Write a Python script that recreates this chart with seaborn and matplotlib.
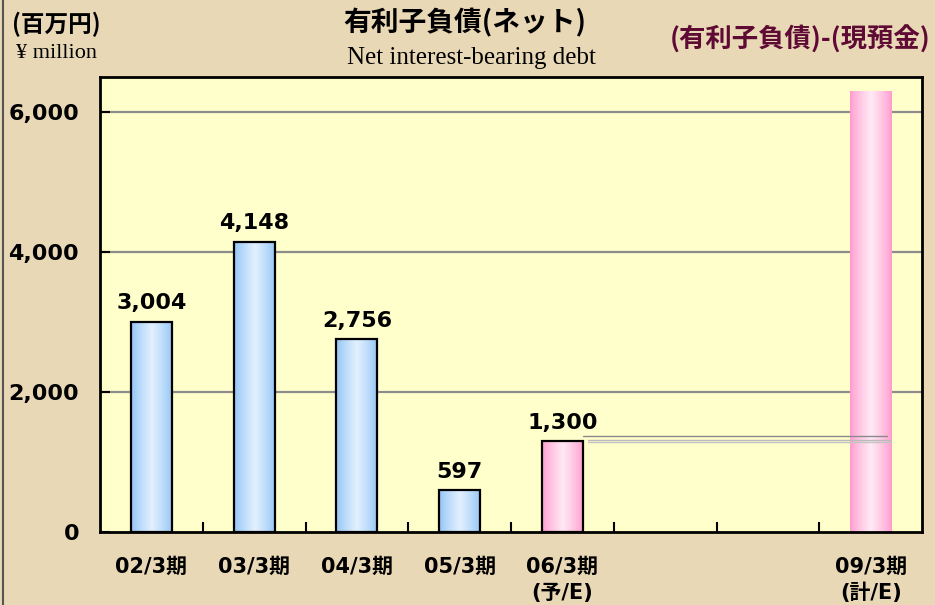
import numpy as np
import pandas as pd
import matplotlib
matplotlib.use("Agg")
import matplotlib.pyplot as plt
import seaborn as sns
from matplotlib.colors import LinearSegmentedColormap
from matplotlib.lines import Line2D

# ---- data ----
slots = ["02/3期", "03/3期", "04/3期", "05/3期", "06/3期\n(予/E)", "07/3期", "08/3期", "09/3期\n(計/E)"]
slot_labels = ["02/3期", "03/3期", "04/3期", "05/3期", "06/3期\n(予/E)", "", "", "09/3期\n(計/E)"]
bar_periods = ["02/3期", "03/3期", "04/3期", "05/3期", "06/3期\n(予/E)", "09/3期\n(計/E)"]
bar_values = [3004, 4148, 2756, 597, 1300, 6300]
bar_kind = ["actual", "actual", "actual", "actual", "forecast", "plan"]
value_labels = ["3,004", "4,148", "2,756", "597", "1,300", ""]
y_ticks = [0, 2000, 4000, 6000]
y_ticklabels = ["0", "2,000", "4,000", "6,000"]

BG = "#E9D8B6"
PLOT_BG = "#FFFFCC"
edge_col = {"actual": "#8FC3F5", "forecast": "#FF9ACD", "plan": "#FF9ACD"}
mid_col = {"actual": "#E2F0FF", "forecast": "#FFE8F4", "plan": "#FFEAF5"}

sns.set_theme(style="white")
plt.rcParams["font.family"] = ["DejaVu Sans", "Noto Sans CJK JP"]
plt.rcParams["text.color"] = "black"

fig = plt.figure(figsize=(9.35, 6.05), dpi=100, facecolor=BG)
ax = fig.add_axes([100 / 935, (605 - 532) / 605, 822 / 935, 455 / 605])
ax.set_facecolor(PLOT_BG)

df = pd.DataFrame({"period": bar_periods, "value": bar_values, "kind": bar_kind})
palette = {p: edge_col[k] for p, k in zip(bar_periods, bar_kind)}
sns.barplot(data=df, x="period", y="value", hue="period", palette=palette,
            order=slots, width=0.4, legend=False, edgecolor="black",
            linewidth=1.6, saturation=1, ax=ax)

# gridlines
for yv in y_ticks[1:]:
    ax.axhline(yv, color="#8C8C8C", lw=1.6, zorder=0.5)

# gradient fill of bars
t = np.linspace(0, 1, 128)
profile = np.clip(1 - np.abs(t - 0.5) / 0.5, 0, 1) ** 0.8
bars = [p for p in ax.patches if p.get_height() > 0]
bars = sorted(bars, key=lambda p: p.get_x())
for patch, kind, lab in zip(bars, bar_kind, value_labels):
    x0, w, h = patch.get_x(), patch.get_width(), patch.get_height()
    cmap = LinearSegmentedColormap.from_list("g", [edge_col[kind], mid_col[kind]])
    ax.imshow(profile[np.newaxis, :], extent=[x0, x0 + w, 0, h], aspect="auto",
              cmap=cmap, vmin=0, vmax=1, zorder=2, interpolation="bilinear")
    patch.set_facecolor("none")
    patch.set_zorder(3)
    if kind == "plan":
        patch.set_linewidth(0)
    if lab:
        ax.annotate(lab, (x0 + w / 2, h), xytext=(0, 6), textcoords="offset points",
                    ha="center", va="bottom", fontsize=16, fontweight="bold",
                    color="black", zorder=5)

# connector lines from forecast bar to plan bar
fbar = bars[4]
pbar = bars[5]
fy = fbar.get_height()
ax.plot([fbar.get_x() + fbar.get_width(), pbar.get_x() + pbar.get_width() - 0.04],
        [fy + 65, fy + 65], color="#8A8A8A", lw=1.0, zorder=4)
ax.plot([fbar.get_x() + fbar.get_width() + 0.05, pbar.get_x() + pbar.get_width()],
        [fy + 15, fy + 15], color="#BBBBBB", lw=1.0, zorder=4)
ax.plot([fbar.get_x() + fbar.get_width() + 0.05, pbar.get_x() + pbar.get_width()],
        [fy - 10, fy - 10], color="#C4C4C4", lw=1.0, zorder=4)

ax.set_xlim(-0.5, len(slots) - 0.5)
ax.set_ylim(0, 6500)
ax.set_xlabel("")
ax.set_ylabel("")

ax.set_yticks(y_ticks)
ax.set_yticklabels(y_ticklabels, fontsize=16, fontweight="bold", color="black")
ax.tick_params(axis="y", direction="in", length=7, width=1.5, color="black",
               pad=15, left=True, labelcolor="black")

ax.set_xticks(range(len(slots)))
ax.set_xticklabels(slot_labels, fontsize=15, fontweight="bold", color="black")
ax.set_xticks(np.arange(0.5, len(slots) - 1, 1.0), minor=True)
ax.tick_params(axis="x", which="major", length=0, pad=18, labelcolor="black")
ax.tick_params(axis="x", which="minor", direction="in", length=7, width=1.5,
               color="black", bottom=True)
for tl in ax.get_xticklabels():
    tl.set_linespacing(1.35)
    tl.set_family(["DejaVu Sans", "Noto Sans CJK JP"])

for s in ax.spines.values():
    s.set_visible(True)
    s.set_color("black")
    s.set_linewidth(2)

# header texts
fig.text(465 / 935, 1 - 23 / 605, "有利子負債(ネット)", ha="center", va="center",
         fontsize=20, fontweight="bold", family=["Noto Sans CJK JP"], color="black")
fig.text(471 / 935, 1 - 58 / 605, "Net interest-bearing debt", ha="center", va="center",
         fontsize=18, family=["Liberation Serif"], color="black")
fig.text(12 / 935, 1 - 24 / 605, "(百万円)", ha="left", va="center",
         fontsize=17, fontweight="bold", family=["Noto Sans CJK JP"], color="black")
fig.text(16 / 935, 1 - 53 / 605, "¥ million", ha="left", va="center",
         fontsize=16, family=["Liberation Serif"], color="black")
fig.text(930 / 935, 1 - 40 / 605, "(有利子負債)-(現預金)", ha="right", va="center",
         fontsize=19, fontweight="bold", family=["Noto Sans CJK JP"], color="#5E0A34")

fig.add_artist(Line2D([3 / 935, 3 / 935], [0, 1], transform=fig.transFigure,
                      color="#555555", lw=1.5))

fig.savefig("out.png", dpi=100, facecolor=BG)
